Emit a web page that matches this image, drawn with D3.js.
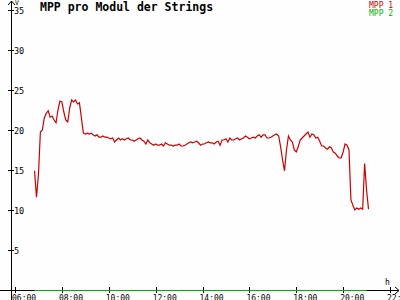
<!DOCTYPE html>
<html>
<head>
<meta charset="utf-8">
<script src="https://cdn.jsdelivr.net/npm/d3@7"></script>
<style>
html,body{margin:0;padding:0;background:#fff;}
svg{display:block;}
text{font-family:"DejaVu Sans Mono",monospace;}
</style>
</head>
<body>
<svg id="chart" width="400" height="300"></svg>
<script>
// ---- data ----
const title = "MPP pro Modul der Strings";
const seriesNames = ["MPP 1", "MPP 2"];
const seriesColors = ["#c80000", "#00b000"];
const startTime = "06:50";      // first sample
const stepMinutes = 5;          // sampling interval
const mpp1 = [
14.9,11.6,14.4,19.75,20.0,21.5,22.1,22.4,21.6,21.75,21.25,20.9,22.5,23.6,23.5,22.25,21.25,21.0,22.75,23.75,
23.5,23.75,23.25,23.4,21.5,19.6,19.5,19.6,19.5,19.6,19.4,19.25,19.4,19.1,19.1,19.25,19.1,19.1,19.0,18.9,
19.0,18.5,18.75,19.0,18.75,18.9,18.75,18.9,19.0,18.75,18.75,18.6,18.75,18.9,19.0,18.75,18.6,18.25,18.75,18.4,
18.25,18.1,18.25,18.1,18.1,18.25,18.0,18.4,18.25,18.1,18.1,18.0,18.1,18.1,18.25,18.0,18.0,18.1,18.25,18.4,
18.5,18.4,18.5,18.6,18.4,18.1,18.25,18.25,18.4,18.5,18.4,18.4,18.25,18.5,18.6,18.1,18.75,18.75,18.9,18.5,
19.0,18.75,18.75,18.9,19.0,18.75,18.9,19.0,19.25,19.1,18.9,19.0,19.1,19.0,19.25,19.4,19.1,19.4,19.4,19.0,
19.0,19.1,19.25,19.4,19.5,19.25,17.9,16.25,14.9,17.5,19.25,18.75,18.5,17.5,17.25,17.9,18.75,19.0,19.25,19.5,
19.75,19.1,19.5,19.4,19.0,19.1,18.6,18.0,18.0,17.75,17.6,17.9,17.75,17.25,17.1,16.75,16.5,16.5,17.25,18.25,
18.1,17.5,11.25,10.6,10.0,10.25,10.1,10.25,10.1,15.8,12.5,10.1
];
const mpp2Times = ["06:50", "21:00"];
const mpp2 = [0, 0];
const yTicks = [5, 10, 15, 20, 25, 30, 35];
const xTickLabels = ["06:00","08:00","10:00","12:00","14:00","16:00","18:00","20:00","22:00"];
const xDomain = ["06:00", "22:00"];
const yDomain = [0, 35];
const yUnit = "V";
const xUnit = "h";

// ---- helpers ----
const parse = d3.timeParse("%H:%M");
const t0 = parse(startTime);
const series1 = mpp1.map((v, i) => ({t: d3.timeMinute.offset(t0, i * stepMinutes), v}));
const series2 = mpp2.map((v, i) => ({t: parse(mpp2Times[i]), v}));

const svg = d3.select("#chart");
const axisX0 = 11, axisY0 = 290;
const x = d3.scaleTime().domain(xDomain.map(parse)).range([15, 390]);
const y = d3.scaleLinear().domain(yDomain).range([290, 10]);

svg.append("rect").attr("width", 400).attr("height", 300).attr("fill", "#fefefe");

// y axis
const gy = svg.append("g").attr("transform", `translate(${axisX0},0)`)
  .call(d3.axisRight(y).tickValues(yTicks).tickSize(3).tickFormat(d3.format("d")));
gy.select(".domain").remove();
gy.selectAll(".tick line").attr("x1", -3).attr("x2", 3).attr("stroke", "#000").attr("shape-rendering", "crispEdges");
gy.selectAll(".tick text").attr("x", 3).attr("dy", "0.38em").attr("font-size", 8.5).attr("fill", "#000")
  .attr("font-family", "DejaVu Sans Mono");
svg.append("line").attr("x1", axisX0 + 0.5).attr("x2", axisX0 + 0.5).attr("y1", 1).attr("y2", 300)
  .attr("stroke", "#000").attr("shape-rendering", "crispEdges");
svg.append("path").attr("d", `M${axisX0-3},5L${axisX0+0.5},1L${axisX0+4},5`).attr("fill", "none").attr("stroke", "#000");
svg.append("text").attr("x", 15).attr("y", 5).attr("font-size", 6.5).text(yUnit);

// x axis
const gx = svg.append("g").attr("transform", `translate(0,${axisY0})`)
  .call(d3.axisBottom(x).tickValues(xTickLabels.map(parse)).tickSize(3).tickFormat(d3.timeFormat("%H:%M")));
gx.select(".domain").remove();
gx.selectAll(".tick line").attr("y1", -3).attr("y2", 3).attr("stroke", "#000").attr("shape-rendering", "crispEdges");
gx.selectAll(".tick text").attr("y", 10.5).attr("dy", 0).attr("x", -3.5).attr("text-anchor", "start")
  .attr("font-size", 8).attr("fill", "#000").attr("font-family", "DejaVu Sans Mono");
svg.append("line").attr("x1", 0).attr("x2", 399).attr("y1", axisY0 + 0.5).attr("y2", axisY0 + 0.5)
  .attr("stroke", "#000").attr("shape-rendering", "crispEdges");
svg.append("path").attr("d", `M395,${axisY0-3}L399,${axisY0+0.5}L395,${axisY0+4}`).attr("fill", "none").attr("stroke", "#000");
svg.append("text").attr("x", 385).attr("y", 285).attr("font-size", 8).text(xUnit);

// lines
const line = d3.line().x(d => x(d.t)).y(d => y(d.v));
svg.append("path").datum(series2).attr("d", line).attr("fill", "none")
  .attr("stroke", seriesColors[1]).attr("stroke-width", 1).attr("transform", "translate(0,0.5)");
svg.append("path").datum(series1).attr("d", line).attr("fill", "none")
  .attr("stroke", seriesColors[0]).attr("stroke-width", 1.2).attr("stroke-linejoin", "miter");

// title
svg.append("text").attr("x", 40).attr("y", 11).attr("font-size", 11.5).attr("font-weight", "bold")
  .attr("fill", "#000").text(title);

// legend
seriesNames.forEach((n, i) => {
  svg.append("text").attr("x", 369).attr("y", 7.5 + i * 8.5).attr("font-size", 8)
    .attr("fill", seriesColors[i]).text(n);
});
</script>
</body>
</html>
